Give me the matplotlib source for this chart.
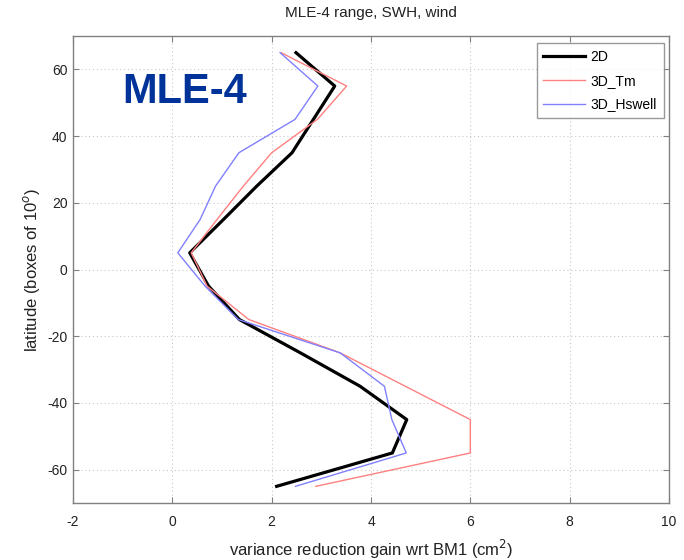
import matplotlib
matplotlib.use("Agg")
import matplotlib.pyplot as plt

plt.rcParams['font.family'] = ['Liberation Sans', 'DejaVu Sans']
plt.rcParams['axes.unicode_minus'] = False

lat = [65, 55, 45, 35, 25, 15, 5, -5, -15, -25, -35, -45, -55, -65]
gain_2d = [2.49, 3.27, 2.84, 2.41, 1.70, 1.03, 0.35, 0.73, 1.35, 2.58, 3.78, 4.72, 4.43, 2.10]
gain_3d_tm = [2.19, 3.51, 2.92, 2.00, 1.43, 0.90, 0.38, 0.70, 1.54, 3.38, 4.69, 6.00, 6.00, 2.89]
gain_3d_hswell = [2.17, 2.93, 2.47, 1.34, 0.87, 0.56, 0.11, 0.66, 1.33, 3.38, 4.27, 4.42, 4.71, 2.48]

xticks = [-2, 0, 2, 4, 6, 8, 10]
yticks = [-60, -40, -20, 0, 20, 40, 60]

fig = plt.figure(figsize=(6.84, 5.6), dpi=100)
ax = fig.add_axes([73/684, 1-503/560, (669-73)/684, (503-36)/560])

ax.plot(gain_2d, lat, color='black', lw=2.3, label='2D')
ax.plot(gain_3d_tm, lat, color='#ff8080', lw=1.0, label='3D_Tm')
ax.plot(gain_3d_hswell, lat, color='#8080ff', lw=1.0, label='3D_Hswell')

ax.set_xlim(-2, 10)
ax.set_ylim(-70, 70)
ax.set_xticks(xticks)
ax.set_yticks(yticks)
ax.grid(True, linestyle=(0, (1, 2.5)), color='#c8c8c8', lw=0.8)
ax.tick_params(direction='in', top=True, right=True, length=4, color='#808080',
               labelsize=10, labelcolor='#222222')
ax.tick_params(axis='x', pad=9)
ax.tick_params(axis='y', pad=4)
for s in ax.spines.values():
    s.set_color('#808080')
    s.set_linewidth(1.0)

ax.set_title('MLE-4 range, SWH, wind', fontsize=11, color='#222222', pad=14)
ax.set_xlabel('variance reduction gain wrt BM1 (cm$^2$)', fontsize=12, color='#222222', labelpad=6)
ax.set_ylabel('latitude (boxes of 10$^o$)', fontsize=12, color='#222222', labelpad=4)

ax.text(122/684, 1-103/560, 'MLE-4', transform=fig.transFigure, fontsize=30,
        fontweight='bold', color='#003399', ha='left', va='baseline')

leg = ax.legend(loc='upper right', fontsize=10, frameon=True, fancybox=False,
                edgecolor='#808080', handlelength=3.0, handletextpad=0.4,
                labelspacing=0.7, borderpad=0.5, borderaxespad=0.0,
                bbox_to_anchor=(1 - 5/596, 1 - 7/467))
leg.get_frame().set_linewidth(1.0)

fig.savefig('out.png', dpi=100)
